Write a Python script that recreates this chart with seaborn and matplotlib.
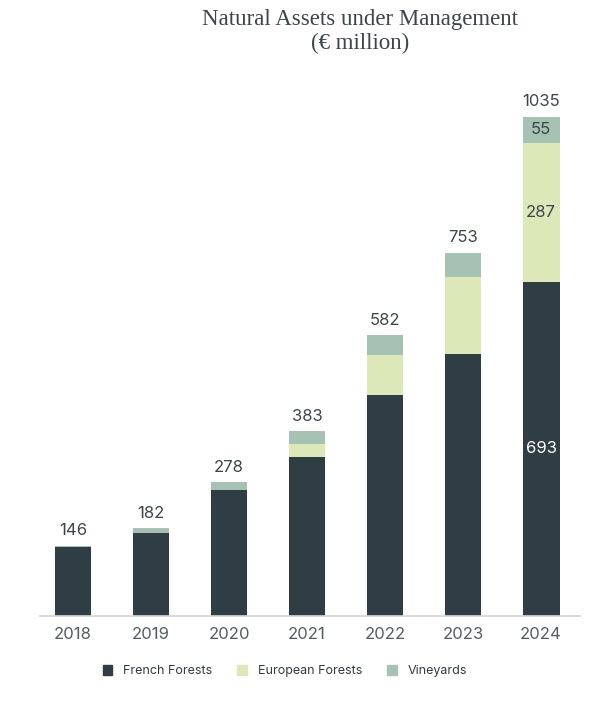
import numpy as np
import pandas as pd
import matplotlib
matplotlib.use("Agg")
import matplotlib.pyplot as plt
import seaborn as sns

# values (EUR million)
years = ["2018", "2019", "2020", "2021", "2022", "2023", "2024"]
french_forests = [142, 173, 261, 329, 458, 542, 693]
european_forests = [0, 0, 0, 27, 83, 161, 287]
vineyards = [4, 9, 17, 27, 41, 50, 55]
totals = [146, 182, 278, 383, 582, 753, 1035]

colors = {"French Forests": "#2f3d44", "European Forests": "#dce8b8", "Vineyards": "#a5c2b2"}
text_color = "#3d464b"

sns.set_theme(style="white")
plt.rcParams["font.family"] = ["Inter", "DejaVu Sans"]

df = pd.DataFrame({"year": years, "French Forests": french_forests,
                   "European Forests": european_forests, "Vineyards": vineyards})

fig = plt.figure(figsize=(6, 7.06), dpi=100)
ax = fig.add_axes([0.067, 0.1275, 0.9, 0.745])

bottom = np.zeros(len(years))
for series in ["French Forests", "European Forests", "Vineyards"]:
    sns.barplot(data=df, x="year", y=series, bottom=bottom, color=colors[series],
                width=0.47, ax=ax, saturation=1, edgecolor="none")
    bottom = bottom + df[series].values
if ax.get_legend() is not None:
    ax.get_legend().remove()

# totals above bars
for i, t in enumerate(totals):
    ax.text(i, t + 15, str(t), ha="center", va="bottom", fontsize=12, color=text_color)

# segment labels for the last year
last = len(years) - 1
ax.text(last, french_forests[last] / 2, str(french_forests[last]), ha="center", va="center",
        fontsize=12, color="white")
ax.text(last, french_forests[last] + european_forests[last] / 2, str(european_forests[last]),
        ha="center", va="center", fontsize=12, color=text_color)
ax.text(last, french_forests[last] + european_forests[last] + vineyards[last] / 2,
        str(vineyards[last]), ha="center", va="center", fontsize=12, color=text_color)

ax.set_xlim(-0.42, 6.5)
ax.set_ylim(0, 1090)
ax.set_xlabel("")
ax.set_ylabel("")
ax.set_yticks([])
sns.despine(ax=ax, left=True)
ax.spines["bottom"].set_color("#d5d5d5")
ax.tick_params(axis="x", length=0, pad=8, labelsize=12, labelcolor="#555d61")

handles = [plt.Rectangle((0, 0), 1, 1, color=colors[k]) for k in colors]
fig.legend(handles, list(colors.keys()), loc="center", bbox_to_anchor=(0.475, 0.049), ncol=3,
           frameon=False, fontsize=9, handlelength=0.75, handleheight=0.75,
           columnspacing=2.0, handletextpad=0.9, labelcolor="#333b40")

fig.text(0.6, 0.955, "Natural Assets under Management\n(€ million)", ha="center", va="center",
         fontsize=16.5, family=["Liberation Serif", "DejaVu Serif"], color=text_color,
         linespacing=1.2)

fig.savefig("out.png", dpi=100)
